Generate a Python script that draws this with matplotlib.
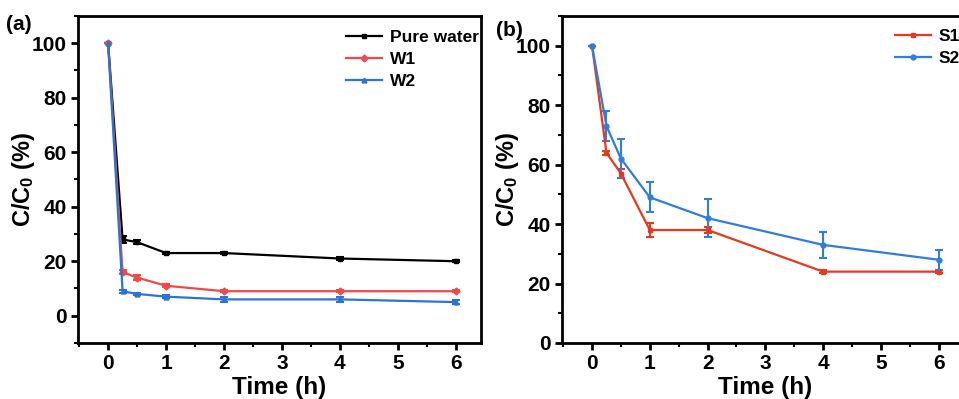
import matplotlib
matplotlib.use('Agg')
import matplotlib.pyplot as plt
from matplotlib.ticker import MultipleLocator

plt.rcParams['font.family'] = ['Liberation Sans', 'DejaVu Sans']
plt.rcParams['font.weight'] = 'bold'
plt.rcParams['mathtext.fontset'] = 'custom'
plt.rcParams['mathtext.rm'] = 'Liberation Sans:bold'
plt.rcParams['mathtext.bf'] = 'Liberation Sans:bold'
plt.rcParams['mathtext.it'] = 'Liberation Sans:bold'

# panel (a)
time_a = [0, 0.25, 0.5, 1, 2, 4, 6]
pure_water = [100, 28, 27, 23, 23, 21, 20]
pure_water_err = [0, 1.2, 0.8, 0.4, 0.4, 0.4, 0.3]
w1 = [100, 16, 14, 11, 9, 9, 9]
w1_err = [0, 0.6, 0.8, 0.5, 0.4, 0.4, 0.4]
w2 = [100, 9, 8, 7, 6, 6, 5]
w2_err = [0, 0.5, 0.5, 0.5, 0.8, 0.8, 0.8]

# panel (b)
time_b = [0, 0.25, 0.5, 1, 2, 4, 6]
s1 = [100, 64, 57, 38, 38, 24, 24]
s1_err = [0, 0.6, 1.5, 2.5, 1.0, 0.5, 0.5]
s2 = [100, 73, 62, 49, 42, 33, 28]
s2_err = [0, 5.0, 6.5, 5.0, 6.4, 4.4, 3.3]

fig = plt.figure(figsize=(9.59, 3.99), dpi=100)
ax1 = fig.add_axes([0.0813, 0.1404, 0.420, 0.8195])
ax2 = fig.add_axes([0.586, 0.1404, 0.423, 0.8195])


def style(ax):
    for sp in ax.spines.values():
        sp.set_linewidth(2.0)
    ax.tick_params(which='major', direction='out', length=5, width=2, labelsize=15, pad=3)
    ax.tick_params(which='minor', direction='out', length=3, width=1.5)
    ax.xaxis.set_major_locator(MultipleLocator(1))
    ax.xaxis.set_minor_locator(MultipleLocator(0.5))
    ax.yaxis.set_major_locator(MultipleLocator(20))
    ax.yaxis.set_minor_locator(MultipleLocator(10))
    ax.set_xlabel('Time (h)', fontsize=17.5, fontweight='bold', labelpad=2)
    ax.set_ylabel(r'C/C$_{0}$ (%)', fontsize=17, fontweight='bold')
    ax.yaxis.set_label_coords(-0.101, 0.5)


def add_legend(ax, conts, labels, anchor):
    leg = ax.legend([c[0] for c in conts], labels, loc='upper left', frameon=False,
                    fontsize=12.5, handlelength=2.07, handletextpad=0.46,
                    borderaxespad=0.3, labelspacing=0.4, bbox_to_anchor=anchor)
    for t in leg.get_texts():
        t.set_fontweight('bold')


kw = dict(lw=1.6, ms=3.5, capsize=3, elinewidth=1.5, capthick=1.5)
c1 = ax1.errorbar(time_a, pure_water, yerr=pure_water_err, color='black', marker='s', **kw)
c2 = ax1.errorbar(time_a, w1, yerr=w1_err, color='#f24848', marker='D', **kw)
c3 = ax1.errorbar(time_a, w2, yerr=w2_err, color='#2a74d6', marker='^', **kw)
ax1.set_xlim(-0.52, 6.43)
ax1.set_ylim(-10, 110)
style(ax1)
add_legend(ax1, [c1, c2, c3], ['Pure water', 'W1', 'W2'], (0.635, 0.994))

d1 = ax2.errorbar(time_b, s1, yerr=s1_err, color='#e53a1e', marker='s', **kw)
d2 = ax2.errorbar(time_b, s2, yerr=s2_err, color='#2f7ddf', marker='o', **kw)
ax2.set_xlim(-0.52, 6.5)
ax2.set_ylim(0, 110)
style(ax2)
add_legend(ax2, [d1, d2], ['S1', 'S2'], (0.79, 0.997))

fig.text(0.006, 0.925, '(a)', fontsize=15, fontweight='bold')
fig.text(0.517, 0.91, '(b)', fontsize=15, fontweight='bold')

fig.savefig('out.png', dpi=100)
